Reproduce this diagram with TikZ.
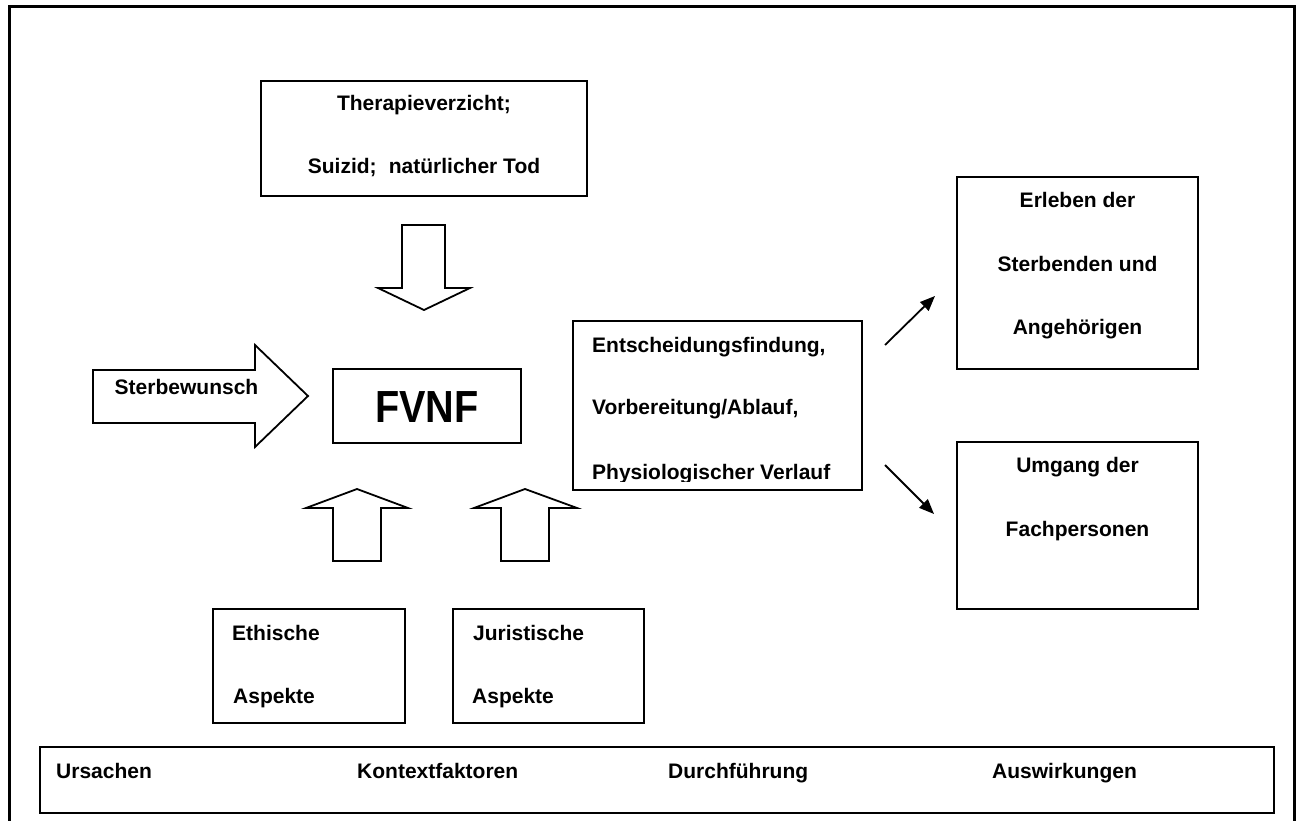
\documentclass[tikz,border=0pt]{standalone}
\usepackage{fontspec}
\setmainfont{Liberation Sans}
\usetikzlibrary{arrows.meta}
\begin{document}
\begin{tikzpicture}[x=1pt,y=-1pt,
  box/.style={draw, line width=1.8pt, inner sep=0pt},
  lbl/.style={font=\fontsize{21}{25}\selectfont\bfseries, inner sep=0pt, anchor=base},
  lbll/.style={lbl, anchor=base west},
  blockarrow/.style={draw, line width=1.8pt, fill=white, line join=miter},
  conn/.style={line width=1.8pt, -{Triangle[length=15pt,width=12pt]}}]
\useasboundingbox (0,0) rectangle (1298,821);
\fill[white] (0,0) rectangle (1298,821);
% outer frame (open at the bottom)
\draw[line width=3pt] (9,840) -- (9,7) -- (1294,7) -- (1294,840);

% boxes
\node[box, minimum width=326, minimum height=115] (top) at (424,138.5) {};
\node[box, minimum width=188, minimum height=74] (fvnf) at (427,406) {};
\node[box, minimum width=289, minimum height=169] (mid) at (717.5,405.5) {};
\node[box, minimum width=241, minimum height=192] (erl) at (1077.5,273) {};
\node[box, minimum width=241, minimum height=167] (umg) at (1077.5,525.5) {};
\node[box, minimum width=192, minimum height=114] (eth) at (309,666) {};
\node[box, minimum width=191, minimum height=114] (jur) at (548.5,666) {};
\node[draw, line width=2.8pt, inner sep=0pt, minimum width=1234, minimum height=66] (bar) at (657,780) {};

% block arrows
\draw[blockarrow] (402,225) -- (445,225) -- (445,288) -- (470,288) -- (424,310) -- (378,288) -- (402,288) -- cycle;
\draw[blockarrow] (93,370) -- (255,370) -- (255,345) -- (308,396) -- (255,447) -- (255,423) -- (93,423) -- cycle;
\draw[blockarrow] (333,561) -- (381,561) -- (381,508) -- (408,508) -- (357,489) -- (306,508) -- (333,508) -- cycle;
\draw[blockarrow] (501,561) -- (549,561) -- (549,508) -- (577,508) -- (525,489) -- (474,508) -- (501,508) -- cycle;

% texts
\node[lbl] (t1) at (424,110.5) {Therapieverzicht;};
\node[lbl] (t2) at (424,173.5) {Suizid;\hspace{0.3em} natürlicher Tod};
\node[lbl] (stw) at (186.5,394.5) {Sterbewunsch};
\node[inner sep=0pt, anchor=base, font=\fontsize{45}{50}\selectfont\bfseries] (fv) at (427,422.5) {\scalebox{0.88}[1]{FVNF}};
\node[lbll] (m1) at (592,352.5) {Entscheidungsfindung,};
\node[lbll] (m2) at (592,414.5) {Vorbereitung/Ablauf,};
\begin{scope}
  \clip (575,440) rectangle (860,481);
  \node[lbll] (m3) at (592,479.5) {Physiologischer Verlauf};
\end{scope}
\node[lbl] (e1) at (1077.5,207.5) {Erleben der};
\node[lbl] (e2) at (1077.5,271.5) {Sterbenden und};
\node[lbl] (e3) at (1077.5,334.5) {Angehörigen};
\node[lbl] (u1) at (1077.5,472.5) {Umgang der};
\node[lbl] (u2) at (1077.5,536.5) {Fachpersonen};
\node[lbll] (eth1) at (232,640.5) {Ethische};
\node[lbll] (eth2) at (233,703.5) {Aspekte};
\node[lbll] (jur1) at (473,640.5) {Juristische};
\node[lbll] (jur2) at (472,703.5) {Aspekte};
\node[lbll] (b1) at (56,778.5) {Ursachen};
\node[lbll] (b2) at (357,778.5) {Kontextfaktoren};
\node[lbll] (b3) at (668,778.5) {Durchführung};
\node[lbll] (b4) at (992,778.5) {Auswirkungen};

% connectors
\coordinate (a1s) at (885,345);
\coordinate (a1e) at (935,296);
\coordinate (a2s) at (885,465);
\coordinate (a2e) at (934,514);
\draw[conn] (a1s) -- (a1e);
\draw[conn] (a2s) -- (a2e);
\end{tikzpicture}
\end{document}
